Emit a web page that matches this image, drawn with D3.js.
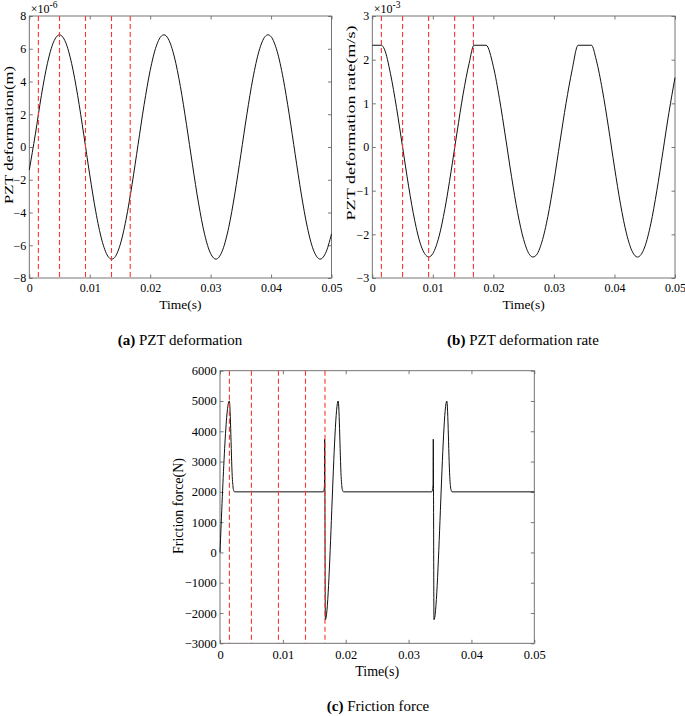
<!DOCTYPE html>
<html>
<head>
<meta charset="utf-8">
<script src="https://cdn.jsdelivr.net/npm/d3@7"></script>
<style>
  body { margin: 0; background: #fff; }
  svg text { font-family: "Liberation Serif", "Times New Roman", serif; }
</style>
</head>
<body>
<div id="chart"></div>
<script>
// values
// (a) PZT deformation, x 1e-6 m
var timeA = [0, 0.001, 0.002, 0.003, 0.004, 0.005, 0.006, 0.007, 0.008, 0.009, 0.010, 0.011, 0.012, 0.013, 0.0136,
    0.014, 0.015, 0.016, 0.017, 0.018, 0.019, 0.020, 0.021, 0.022, 0.0223, 0.023, 0.024, 0.025, 0.026, 0.027, 0.028,
    0.029, 0.030, 0.0309, 0.031, 0.032, 0.033, 0.034, 0.035, 0.036, 0.037, 0.038, 0.039, 0.0395, 0.040, 0.041, 0.042,
    0.043, 0.044, 0.045, 0.046, 0.047, 0.048, 0.0481, 0.049, 0.050];
var deformA = [-1.4, 0.78, 3.15, 5.11, 6.40, 6.85, 6.40, 5.11, 3.15, 0.78, -1.70, -3.95, -5.68, -6.67, -6.85,
    -6.79, -6.01, -4.44, -2.29, 0.16, 2.59, 4.68, 6.15, 6.82, 6.85, 6.60, 5.50, 3.69, 1.39, -1.09, -3.43,
    -5.32, -6.51, -6.85, -6.84, -6.28, -4.90, -2.87, -0.47, 2.00, 4.20, 5.85, 6.74, 6.85, 6.74, 5.85, 4.20,
    2.00, -0.47, -2.87, -4.90, -6.28, -6.84, -6.85, -6.50, -5.31];

// (b) PZT deformation rate, x 1e-3 m/s
var timeB = [0, 0.0015, 0.002, 0.003, 0.004, 0.005, 0.006, 0.007, 0.008, 0.009, 0.0093, 0.010, 0.011, 0.012, 0.013,
    0.014, 0.015, 0.016, 0.0168, 0.0188, 0.020, 0.021, 0.022, 0.023, 0.024, 0.025, 0.026, 0.0265, 0.027, 0.028,
    0.029, 0.030, 0.031, 0.032, 0.033, 0.034, 0.0362, 0.037, 0.038, 0.039, 0.040, 0.041, 0.042, 0.043, 0.0438,
    0.045, 0.046, 0.047, 0.048, 0.049, 0.050];
var rateB = [2.33, 2.33, 2.24, 1.68, 0.90, 0, -0.90, -1.68, -2.24, -2.50, -2.52, -2.44, -2.06, -1.41, -0.57,
    0.34, 1.21, 1.92, 2.33, 2.33, 1.84, 1.11, 0.23, -0.68, -1.50, -2.12, -2.47, -2.52, -2.49, -2.18,
    -1.59, -0.79, 0.12, 1.00, 1.76, 2.33, 2.33, 1.99, 1.31, 0.46, -0.46, -1.31, -1.99, -2.41, -2.52,
    -2.29, -1.76, -1.00, -0.11, 0.79, 1.59];

// (c) Friction force, N
var timeC = [0, 0.00148, 0.00198, 0.00213, 0.00233, 0.01643, 0.01655, 0.01662, 0.01665, 0.01676, 0.0188, 0.0193,
    0.01945, 0.01965, 0.03368, 0.0338, 0.03389, 0.03393, 0.03404, 0.03608, 0.03658, 0.03673, 0.03693, 0.05];
var forceC = [0, 5000, 2400, 2080, 2000, 2000, 2060, 2250, 3740, -2220, 5000, 2400,
    2080, 2000, 2000, 2060, 2250, 3740, -2220, 5000, 2400, 2080, 2000, 2000];

// red dashed marker times (s)
var markTimes = [0.0015, 0.005, 0.0093, 0.0136, 0.0167];

var xTicks = [0, 0.01, 0.02, 0.03, 0.04, 0.05];
var yTicksA = [-8, -6, -4, -2, 0, 2, 4, 6, 8];
var yTicksB = [-3, -2, -1, 0, 1, 2, 3];
var yTicksC = [-3000, -2000, -1000, 0, 1000, 2000, 3000, 4000, 5000, 6000];

var serif = "'Liberation Serif', 'Times New Roman', serif";

var svg = d3.select("#chart")
    .append("svg")
    .attr("width", 685)
    .attr("height", 716)
    .attr("font-family", serif);

var fmtTime = function (d) { return d === 0 ? "0" : d.toFixed(2); };

function panel(p) {
    var g = svg.append("g");
    var x = d3.scaleLinear().domain([0, 0.05]).range([p.left, p.right]);
    var y = d3.scaleLinear().domain(p.yDomain).range([p.bottom, p.top]);

    // bottom / left axes with labels, ticks pointing inward
    var xa = g.append("g")
        .attr("transform", "translate(0," + p.bottom + ")")
        .call(d3.axisBottom(x).tickValues(xTicks).tickSize(-3.5).tickSizeOuter(0)
            .tickPadding(p.xPad).tickFormat(fmtTime));
    var ya = g.append("g")
        .attr("transform", "translate(" + p.left + ",0)")
        .call(d3.axisLeft(y).tickValues(p.yTicks).tickSize(-3.5).tickSizeOuter(0)
            .tickPadding(p.yPad).tickFormat(d3.format("d")));
    // mirrored ticks on top / right
    var xt = g.append("g")
        .attr("transform", "translate(0," + p.top + ")")
        .call(d3.axisTop(x).tickValues(xTicks).tickSize(-3.5).tickSizeOuter(0).tickFormat(""));
    var yr = g.append("g")
        .attr("transform", "translate(" + p.right + ",0)")
        .call(d3.axisRight(y).tickValues(p.yTicks).tickSize(-3.5).tickSizeOuter(0).tickFormat(""));

    [xa, ya, xt, yr].forEach(function (a) {
        a.attr("font-family", serif).attr("font-size", p.tickFont);
        a.select(".domain").remove();
        a.selectAll("line").attr("stroke", "#555").attr("stroke-width", 0.8);
        a.selectAll("text").attr("fill", "#000");
    });

    // box
    g.append("rect")
        .attr("x", p.left)
        .attr("y", p.top)
        .attr("width", p.right - p.left)
        .attr("height", p.bottom - p.top)
        .attr("fill", "none")
        .attr("stroke", "#666")
        .attr("stroke-width", 0.9);

    // curve
    var line = d3.line()
        .x(function (d, i) { return x(p.t[i]); })
        .y(function (d) { return y(d); })
        .curve(d3.curveMonotoneX);
    g.append("path")
        .datum(p.v)
        .attr("d", line)
        .attr("fill", "none")
        .attr("stroke", "#111")
        .attr("stroke-width", 1);

    // red dashed markers
    g.selectAll("line.mark")
        .data(markTimes)
        .enter()
        .append("line")
        .attr("class", "mark")
        .attr("x1", function (d) { return x(d); })
        .attr("x2", function (d) { return x(d); })
        .attr("y1", p.top)
        .attr("y2", p.bottom)
        .attr("stroke", "#ff3333")
        .attr("stroke-width", 1.1)
        .attr("stroke-dasharray", "5,3");

    // axis titles
    g.append("text")
        .attr("x", (p.left + p.right) / 2)
        .attr("y", p.xTitleY)
        .attr("text-anchor", "middle")
        .attr("font-size", p.titleFont)
        .text("Time(s)");

    var yt = g.append("text")
        .attr("transform", "translate(" + p.yTitleX + "," + p.yTitleY + ") rotate(-90)")
        .attr("text-anchor", "middle")
        .attr("font-size", p.yTitleFont)
        .text(p.yTitle);
    if (p.yTitleLen) {
        yt.attr("textLength", p.yTitleLen).attr("lengthAdjust", "spacingAndGlyphs");
    }

    // exponent
    if (p.expo) {
        var ex = g.append("text")
            .attr("x", p.left + 1.5)
            .attr("y", p.top - 3)
            .attr("font-size", 12);
        ex.append("tspan").text("\u00d710");
        ex.append("tspan").attr("dy", -5).attr("font-size", 9.5).text(p.expo);
    }

    // caption
    var cap = g.append("text")
        .attr("x", p.capX)
        .attr("y", p.capY)
        .attr("text-anchor", "middle")
        .attr("font-size", 15);
    cap.append("tspan").attr("font-weight", "bold").text(p.capTag);
    cap.append("tspan").text(" " + p.capText);
}

panel({
    left: 29.3, right: 331.5, top: 16, bottom: 278,
    yDomain: [-8, 8], yTicks: yTicksA, t: timeA, v: deformA,
    xPad: 5, yPad: 3, tickFont: 12, titleFont: 13.5,
    xTitleY: 308.5, yTitleX: 13, yTitleY: 135, yTitle: "PZT deformation(m)",
    yTitleFont: 13.5, yTitleLen: 138,
    expo: "-6", capX: 180, capY: 345, capTag: "(a)", capText: "PZT deformation"
});

panel({
    left: 372.3, right: 675, top: 16, bottom: 278,
    yDomain: [-3, 3], yTicks: yTicksB, t: timeB, v: rateB,
    xPad: 5, yPad: 3, tickFont: 12, titleFont: 13.5,
    xTitleY: 308.5, yTitleX: 354.5, yTitleY: 123, yTitle: "PZT deformation rate(m/s)",
    yTitleFont: 13.5, yTitleLen: 195,
    expo: "-3", capX: 523, capY: 345, capTag: "(b)", capText: "PZT deformation rate"
});

panel({
    left: 220, right: 534.3, top: 370.7, bottom: 643.3,
    yDomain: [-3000, 6000], yTicks: yTicksC, t: timeC, v: forceC,
    xPad: 6.5, yPad: 3.3, tickFont: 12.5, titleFont: 14,
    xTitleY: 675.5, yTitleX: 182.5, yTitleY: 506, yTitle: "Friction force(N)",
    yTitleFont: 14, yTitleLen: 0,
    expo: null, capX: 378, capY: 711, capTag: "(c)", capText: "Friction force"
});
</script>
</body>
</html>
